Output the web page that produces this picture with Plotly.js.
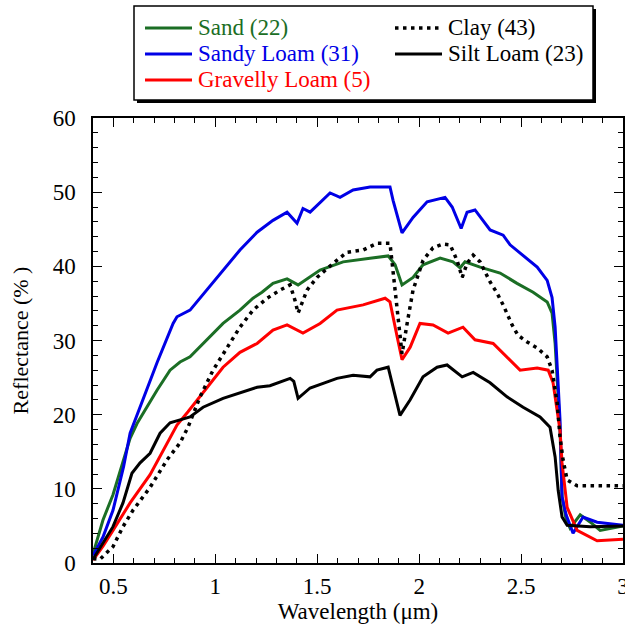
<!DOCTYPE html>
<html>
<head>
<meta charset="utf-8">
<script src="https://cdn.plot.ly/plotly-3.0.1.min.js"></script>
<style>
  html, body { margin: 0; padding: 0; background: #fff; }
</style>
</head>
<body>
<div id="chart" style="width:625px;height:626px"></div>
<script>
// Mean soil reflectance spectra by texture class (number of samples in brackets)

const sandWl = [0.40,0.449,0.498,0.582,0.616,0.714,0.778,0.827,0.876,0.959,1.038,1.121,1.185,1.229,1.283,1.352,1.367,1.406,1.514,1.627,1.759,1.848,1.882,1.916,1.970,2.019,2.103,2.166,2.201,2.225,2.299,2.397,2.480,2.559,2.628,2.652,2.667,2.691,2.701,2.72,2.74,2.79,2.84,2.888,3.0];
const sandR  = [1.2,5.8,9.2,16.8,18.8,23.3,26.0,27.1,27.8,30.1,32.3,34.1,35.7,36.5,37.7,38.3,38.1,37.5,39.5,40.6,41.1,41.4,40.2,37.5,38.5,40.2,41.1,40.6,39.8,40.6,39.9,39.1,37.7,36.5,35.2,33.7,29.6,18.0,9.0,6.0,4.7,6.5,5.5,4.4,5.0];

const sandyLoamWl = [0.40,0.449,0.498,0.55,0.582,0.63,0.714,0.793,0.812,0.876,0.959,1.038,1.121,1.205,1.283,1.352,1.401,1.430,1.465,1.563,1.612,1.676,1.759,1.857,1.872,1.916,1.970,2.039,2.127,2.162,2.206,2.235,2.274,2.348,2.412,2.446,2.510,2.579,2.628,2.652,2.667,2.691,2.701,2.721,2.755,2.804,2.873,3.0];
const sandyLoamR  = [1.0,3.5,7.1,13.0,17.5,21.0,27.0,32.3,33.2,34.1,36.8,39.5,42.2,44.6,46.2,47.3,45.8,47.8,47.3,49.9,49.3,50.3,50.7,50.7,48.9,44.5,46.6,48.7,49.3,48.0,45.1,47.3,47.6,44.9,44.2,42.9,41.5,39.9,38.1,35.8,31.8,19.3,8.9,6.5,4.0,6.2,5.5,5.1];

const gravellyLoamWl = [0.40,0.45,0.498,0.582,0.680,0.763,0.812,0.866,0.959,1.038,1.121,1.205,1.283,1.352,1.430,1.514,1.597,1.725,1.833,1.857,1.892,1.916,1.956,2.004,2.068,2.142,2.215,2.274,2.363,2.431,2.495,2.579,2.633,2.657,2.691,2.701,2.726,2.775,2.873,3.0];
const gravellyLoamR  = [0.4,2.3,4.4,8.1,11.9,16.2,18.6,20.4,23.7,26.4,28.4,29.6,31.4,32.1,31.0,32.3,34.1,34.8,35.7,35.2,30.5,27.4,29.1,32.3,32.1,31.0,31.8,30.1,29.6,27.8,26.0,26.3,26.0,24.3,17.9,13.5,7.5,4.4,3.0,3.2];

const clayWl = [0.40,0.434,0.498,0.547,0.596,0.680,0.763,0.827,0.866,0.925,0.989,1.058,1.121,1.185,1.254,1.318,1.367,1.391,1.406,1.450,1.499,1.578,1.646,1.725,1.793,1.857,1.882,1.916,1.941,1.970,2.019,2.068,2.117,2.152,2.186,2.211,2.235,2.265,2.299,2.348,2.382,2.412,2.456,2.485,2.530,2.579,2.628,2.652,2.677,2.691,2.706,2.726,2.775,3.0];
const clayR  = [0.6,0.5,2.2,4.9,7.1,10.2,13.9,16.2,18.3,22.4,26.0,29.1,31.8,34.1,35.7,36.8,37.5,35.4,33.7,36.8,38.5,40.4,41.9,42.2,43.1,43.1,37.2,28.2,32.3,36.8,40.8,42.5,43.0,42.9,40.8,38.5,40.4,41.5,40.6,37.9,36.4,34.8,32.1,30.7,29.8,29.0,27.8,26.0,21.6,17.0,13.9,11.2,10.4,10.4];

const siltLoamWl = [0.40,0.449,0.498,0.547,0.591,0.631,0.680,0.729,0.778,0.827,0.876,0.94,1.038,1.205,1.268,1.367,1.385,1.406,1.465,1.597,1.676,1.759,1.793,1.848,1.867,1.906,1.956,2.019,2.088,2.137,2.211,2.265,2.348,2.431,2.510,2.593,2.642,2.667,2.682,2.701,2.726,2.839,3.0];
const siltLoamR  = [0.5,2.7,4.9,8.1,12.1,13.5,14.8,17.5,18.9,19.3,19.7,21.0,22.2,23.7,23.9,24.9,24.5,22.2,23.6,24.9,25.3,25.1,26.0,26.4,24.3,19.9,22.0,25.1,26.4,26.7,25.1,25.7,24.3,22.4,21.0,19.7,18.3,14.3,9.8,6.2,5.1,4.9,5.0];

const seriesNames = ['Sand (22)', 'Sandy Loam (31)', 'Gravelly Loam (5)', 'Clay (43)', 'Silt Loam (23)'];

const GREEN = '#1b6e25', BLUE = '#0000e6', RED = '#ff0000', BLACK = '#000000';
const SERIF = 'Liberation Serif';
const dotDash = '3.5px,4.5px';

const traces = [
  {x: sandWl, y: sandR, name: seriesNames[0], line: {color: GREEN, width: 3}},
  {x: sandyLoamWl, y: sandyLoamR, name: seriesNames[1], line: {color: BLUE, width: 3}},
  {x: gravellyLoamWl, y: gravellyLoamR, name: seriesNames[2], line: {color: RED, width: 3}},
  {x: clayWl, y: clayR, name: seriesNames[3], line: {color: BLACK, width: 3.5, dash: dotDash}},
  {x: siltLoamWl, y: siltLoamR, name: seriesNames[4], line: {color: BLACK, width: 3}}
].map(t => Object.assign({type: 'scatter', mode: 'lines', hoverinfo: 'skip'}, t));

// plot-area geometry in pixels, used to place the boxed key above the axes
const figW = 625, figH = 626;
const marg = {l: 93, r: 2, t: 118, b: 63};
const plotW = figW - marg.l - marg.r, plotH = figH - marg.t - marg.b;
const toPaperX = v => (v - marg.l) / plotW;
const toPaperY = v => (figH - marg.b - v) / plotH;

const keyShapes = [
  // drop shadow, then the white key box
  {type: 'rect', xref: 'paper', yref: 'paper', x0: toPaperX(137), x1: toPaperX(596), y0: toPaperY(103), y1: toPaperY(9),
   fillcolor: '#000', line: {width: 0}},
  {type: 'rect', xref: 'paper', yref: 'paper', x0: toPaperX(134), x1: toPaperX(593), y0: toPaperY(100), y1: toPaperY(6),
   fillcolor: '#fff', line: {color: '#000', width: 1.5}}
];
const keyLabels = [];

const keyRows = [
  {i: 0, col: 0, row: 0, color: GREEN, dash: 'solid'},
  {i: 1, col: 0, row: 1, color: BLUE, dash: 'solid'},
  {i: 2, col: 0, row: 2, color: RED, dash: 'solid'},
  {i: 3, col: 1, row: 0, color: BLACK, dash: dotDash},
  {i: 4, col: 1, row: 1, color: BLACK, dash: 'solid'}
];
const colX = [[145, 192, 196], [395, 442, 446]];
const rowY = [28, 54, 80];
keyRows.forEach(k => {
  const [a, b, tx] = colX[k.col];
  const yy = toPaperY(rowY[k.row]);
  keyShapes.push({type: 'line', xref: 'paper', yref: 'paper', x0: toPaperX(a), x1: toPaperX(b), y0: yy, y1: yy,
    line: {color: k.color, width: k.dash === 'solid' ? 3 : 3.5, dash: k.dash}});
  keyLabels.push({xref: 'paper', yref: 'paper', x: toPaperX(tx), y: yy, xanchor: 'left', yanchor: 'middle',
    text: seriesNames[k.i], showarrow: false,
    font: {family: SERIF, size: 23, color: k.color}});
});

const axisCommon = {
  showline: true, linecolor: '#000', linewidth: 1.5, mirror: 'allticks',
  ticks: 'inside', ticklen: 9, tickwidth: 1.2, tickcolor: '#000',
  showgrid: false, zeroline: false, automargin: false,
  ticklabeloverflow: 'allow',
  tickfont: {family: SERIF, size: 23, color: '#000'}
};

const layout = {
  width: figW, height: figH,
  margin: marg,
  paper_bgcolor: '#fff', plot_bgcolor: '#fff',
  showlegend: false,
  xaxis: Object.assign({}, axisCommon, {
    range: [0.4, 3.0], tickvals: [0.5, 1, 1.5, 2, 2.5, 3], ticktext: ['0.5', '1', '1.5', '2', '2.5', '3'],
    minor: {dtick: 0.1, tick0: 0.4, ticks: 'inside', ticklen: 5, tickwidth: 1.2, tickcolor: '#000'},
    ticklabelstandoff: 2,
    title: {text: 'Wavelength (μm)', font: {family: SERIF, size: 23, color: '#000'}, standoff: 5}
  }),
  yaxis: Object.assign({}, axisCommon, {
    range: [0, 60], dtick: 10,
    minor: {dtick: 2, ticks: 'inside', ticklen: 5, tickwidth: 1.2, tickcolor: '#000'},
    ticklabelstandoff: 11,
    title: {text: 'Reflectance (% )', font: {family: SERIF, size: 22, color: '#000'}, standoff: 18}
  }),
  shapes: keyShapes,
  annotations: keyLabels
};

Plotly.newPlot('chart', traces, layout, {displayModeBar: false});
</script>
</body>
</html>
